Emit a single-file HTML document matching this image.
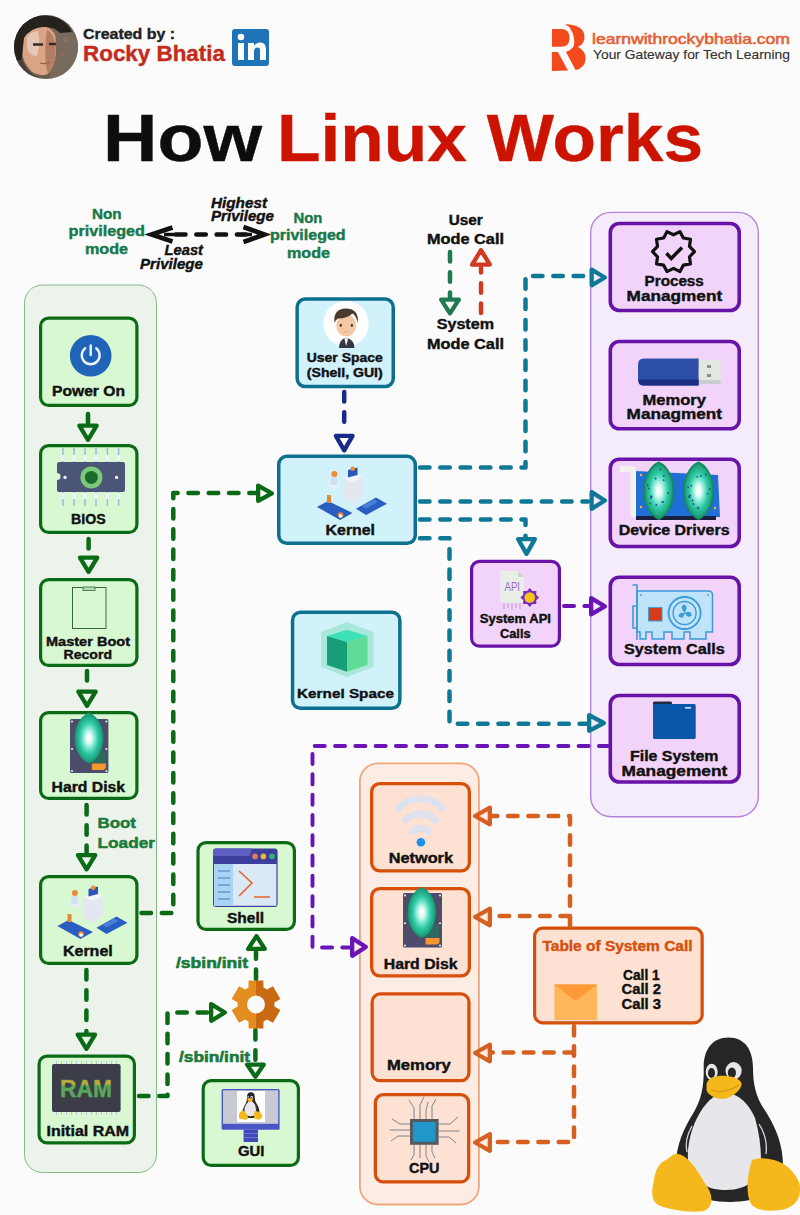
<!DOCTYPE html>
<html><head><meta charset="utf-8"><title>How Linux Works</title>
<style>
html,body{margin:0;padding:0;background:#fbfbfb;}
body{width:800px;height:1215px;overflow:hidden;}
svg{display:block;font-family:"Liberation Sans", sans-serif;}
</style></head>
<body>
<svg width="800" height="1215" viewBox="0 0 800 1215">
<rect width="800" height="1215" fill="#fbfbfb"/>
<defs><clipPath id="av"><circle cx="46" cy="47" r="32"/></clipPath><radialGradient id="gem" cx="50%" cy="50%" r="50%"><stop offset="0" stop-color="#ffffff"/><stop offset="0.18" stop-color="#e6fbf6"/><stop offset="0.4" stop-color="#7fe8d2"/><stop offset="0.62" stop-color="#2fcaa6"/><stop offset="0.85" stop-color="#1fa882"/><stop offset="1" stop-color="#168a66"/></radialGradient></defs>
<text x="83" y="39" font-size="15.5" font-weight="bold" fill="#222" textLength="92" lengthAdjust="spacingAndGlyphs" stroke="#222" stroke-width="0.4">Created by :</text>
<text x="83" y="61" font-size="21.5" font-weight="bold" fill="#c42b1c" textLength="142" lengthAdjust="spacingAndGlyphs" stroke="#c42b1c" stroke-width="0.4">Rocky Bhatia</text>
<rect x="232" y="29" width="37" height="37" rx="3" fill="#1f73b7"/>
<rect x="238" y="43" width="6" height="17" fill="#fff"/><circle cx="241" cy="37" r="3.3" fill="#fff"/>
<path d="M248 43 h6 v3 q2-3.5 6.5-3.5 q5.5 0 5.5 7 v10.5 h-6 v-9.5 q0-3-2.5-3 q-3.5 0-3.5 3.5 v9 h-6 z" fill="#fff"/>
<text x="592" y="44" font-size="14.5" font-weight="normal" fill="#e55e34" textLength="198" lengthAdjust="spacingAndGlyphs" stroke="#e55e34" stroke-width="0.55">learnwithrockybhatia.com</text>
<text x="593" y="59" font-size="13" font-weight="normal" fill="#333" textLength="197" lengthAdjust="spacingAndGlyphs" stroke="#333" stroke-width="0.15">Your Gateway for Tech Learning</text>
<text x="103" y="161" font-size="67" font-weight="bold" fill="#0d0d0d" textLength="159" lengthAdjust="spacingAndGlyphs" stroke="#0d0d0d" stroke-width="0.4">How</text>
<text x="277" y="161" font-size="67" font-weight="bold" fill="#cc1300" textLength="426" lengthAdjust="spacingAndGlyphs" stroke="#cc1300" stroke-width="0.4">Linux Works</text>
<text x="92" y="219" font-size="14" font-weight="bold" fill="#17784a" textLength="29.599999999999994" lengthAdjust="spacingAndGlyphs" stroke="#17784a" stroke-width="0.4">Non</text>
<text x="68.6" y="236" font-size="14" font-weight="bold" fill="#17784a" textLength="76.4" lengthAdjust="spacingAndGlyphs" stroke="#17784a" stroke-width="0.4">privileged</text>
<text x="85" y="254" font-size="14" font-weight="bold" fill="#17784a" textLength="43" lengthAdjust="spacingAndGlyphs" stroke="#17784a" stroke-width="0.4">mode</text>
<text x="293.6" y="223" font-size="14" font-weight="bold" fill="#17784a" textLength="28.799999999999955" lengthAdjust="spacingAndGlyphs" stroke="#17784a" stroke-width="0.4">Non</text>
<text x="270" y="240" font-size="14" font-weight="bold" fill="#17784a" textLength="75.60000000000002" lengthAdjust="spacingAndGlyphs" stroke="#17784a" stroke-width="0.4">privileged</text>
<text x="287" y="258" font-size="14" font-weight="bold" fill="#17784a" textLength="43" lengthAdjust="spacingAndGlyphs" stroke="#17784a" stroke-width="0.4">mode</text>
<text x="211" y="207.6" font-size="14" font-weight="bold" fill="#111" font-style="italic" textLength="56" lengthAdjust="spacingAndGlyphs" stroke="#111" stroke-width="0.4">Highest</text>
<text x="211" y="221" font-size="14" font-weight="bold" fill="#111" font-style="italic" textLength="63" lengthAdjust="spacingAndGlyphs" stroke="#111" stroke-width="0.4">Privilege</text>
<text x="164.6" y="255" font-size="14" font-weight="bold" fill="#111" font-style="italic" textLength="38.400000000000006" lengthAdjust="spacingAndGlyphs" stroke="#111" stroke-width="0.4">Least</text>
<text x="140" y="269" font-size="14" font-weight="bold" fill="#111" font-style="italic" textLength="63" lengthAdjust="spacingAndGlyphs" stroke="#111" stroke-width="0.4">Privilege</text>
<path d="M176 234.5 H246" fill="none" stroke="#111" stroke-width="4.5" stroke-dasharray="9.50 10.80" stroke-dashoffset="0" stroke-linecap="round" stroke-linejoin="round"/>
<path d="M172.5 227.5 L151.5 234.5 L172.5 241.5" fill="none" stroke="#111" stroke-width="4.6" stroke-linejoin="miter" stroke-miterlimit="8"/><path d="M164 234.5 H176" stroke="#111" stroke-width="3.5"/>
<path d="M243.5 227 L264.5 234.5 L243.5 242" fill="none" stroke="#111" stroke-width="4.6" stroke-linejoin="miter" stroke-miterlimit="8"/><path d="M240 234.5 H252" stroke="#111" stroke-width="3.5"/>
<text x="448.7" y="224.7" font-size="14" font-weight="bold" fill="#111" textLength="34.0" lengthAdjust="spacingAndGlyphs" stroke="#111" stroke-width="0.4">User</text>
<text x="427" y="244" font-size="14" font-weight="bold" fill="#111" textLength="77" lengthAdjust="spacingAndGlyphs" stroke="#111" stroke-width="0.4">Mode Call</text>
<text x="436.7" y="329" font-size="14" font-weight="bold" fill="#111" textLength="57.30000000000001" lengthAdjust="spacingAndGlyphs" stroke="#111" stroke-width="0.4">System</text>
<text x="427" y="348.5" font-size="14" font-weight="bold" fill="#111" textLength="77" lengthAdjust="spacingAndGlyphs" stroke="#111" stroke-width="0.4">Mode Call</text>
<path d="M450 252 V298" fill="none" stroke="#1f7a50" stroke-width="4.5" stroke-dasharray="9.50 10.80" stroke-dashoffset="0" stroke-linecap="round" stroke-linejoin="round"/>
<polygon points="450.00,313.35 441.15,299.65 458.85,299.65" fill="#fbfbfb" stroke="#1f7a50" stroke-width="4.3" stroke-linejoin="round"/>
<path d="M481 313 V268" fill="none" stroke="#d03a20" stroke-width="4.5" stroke-dasharray="9.50 10.80" stroke-dashoffset="0" stroke-linecap="round" stroke-linejoin="round"/>
<polygon points="481.00,250.15 472.15,264.55 489.85,264.55" fill="#fbfbfb" stroke="#d03a20" stroke-width="4.3" stroke-linejoin="round"/>
<rect x="24.5" y="285.0" width="132" height="887.5" rx="18" fill="#ecf3ea" stroke="#86b986" stroke-width="1"/>
<rect x="40.6" y="318.1" width="96.3" height="87.3" rx="8" fill="#d8f8d2" stroke="#0b6a16" stroke-width="3.2"/>
<rect x="40.6" y="445.6" width="96.3" height="86.8" rx="8" fill="#d8f8d2" stroke="#0b6a16" stroke-width="3.2"/>
<rect x="40.6" y="579.6" width="96.3" height="85.8" rx="8" fill="#d8f8d2" stroke="#0b6a16" stroke-width="3.2"/>
<rect x="40.6" y="712.6" width="96.3" height="85.8" rx="8" fill="#d8f8d2" stroke="#0b6a16" stroke-width="3.2"/>
<rect x="40.6" y="876.6" width="96.3" height="86.8" rx="8" fill="#d8f8d2" stroke="#0b6a16" stroke-width="3.2"/>
<rect x="39.1" y="1056.1" width="95.3" height="86.8" rx="8" fill="#d8f8d2" stroke="#0b6a16" stroke-width="3.2"/>
<text x="52" y="396" font-size="14" font-weight="bold" fill="#111" textLength="73" lengthAdjust="spacingAndGlyphs" stroke="#111" stroke-width="0.4">Power On</text>
<text x="71" y="524" font-size="14" font-weight="bold" fill="#111" textLength="34.599999999999994" lengthAdjust="spacingAndGlyphs" stroke="#111" stroke-width="0.4">BIOS</text>
<text x="46" y="645.6" font-size="13" font-weight="bold" fill="#111" textLength="84" lengthAdjust="spacingAndGlyphs" stroke="#111" stroke-width="0.4">Master Boot</text>
<text x="63.6" y="658.6" font-size="13" font-weight="bold" fill="#111" textLength="48.4" lengthAdjust="spacingAndGlyphs" stroke="#111" stroke-width="0.4">Record</text>
<text x="51.6" y="791.6" font-size="14" font-weight="bold" fill="#111" textLength="73.4" lengthAdjust="spacingAndGlyphs" stroke="#111" stroke-width="0.4">Hard Disk</text>
<text x="63" y="956" font-size="14" font-weight="bold" fill="#111" textLength="49.7" lengthAdjust="spacingAndGlyphs" stroke="#111" stroke-width="0.4">Kernel</text>
<text x="46.5" y="1135.5" font-size="14" font-weight="bold" fill="#111" textLength="82.5" lengthAdjust="spacingAndGlyphs" stroke="#111" stroke-width="0.4">Initial RAM</text>
<text x="97.6" y="828" font-size="15" font-weight="bold" fill="#1a7a3a" textLength="38.400000000000006" lengthAdjust="spacingAndGlyphs" stroke="#1a7a3a" stroke-width="0.5">Boot</text>
<text x="97.6" y="848" font-size="15" font-weight="bold" fill="#1a7a3a" textLength="57.400000000000006" lengthAdjust="spacingAndGlyphs" stroke="#1a7a3a" stroke-width="0.5">Loader</text>
<path d="M88 414 V424" fill="none" stroke="#0b6a16" stroke-width="4.5" stroke-dasharray="9.50 10.80" stroke-dashoffset="0" stroke-linecap="round" stroke-linejoin="round"/>
<polygon points="88.00,439.85 79.35,425.65 96.65,425.65" fill="#ecf3ea" stroke="#0b6a16" stroke-width="4.3" stroke-linejoin="round"/>
<path d="M88.6 539 V556" fill="none" stroke="#0b6a16" stroke-width="4.5" stroke-dasharray="9.50 10.80" stroke-dashoffset="0" stroke-linecap="round" stroke-linejoin="round"/>
<polygon points="88.60,571.85 79.95,557.65 97.25,557.65" fill="#ecf3ea" stroke="#0b6a16" stroke-width="4.3" stroke-linejoin="round"/>
<path d="M87 671 V690" fill="none" stroke="#0b6a16" stroke-width="4.5" stroke-dasharray="9.50 10.80" stroke-dashoffset="0" stroke-linecap="round" stroke-linejoin="round"/>
<polygon points="87.00,705.85 78.35,691.65 95.65,691.65" fill="#ecf3ea" stroke="#0b6a16" stroke-width="4.3" stroke-linejoin="round"/>
<path d="M86.6 805 V853.5" fill="none" stroke="#0b6a16" stroke-width="4.5" stroke-dasharray="9.50 10.80" stroke-dashoffset="0" stroke-linecap="round" stroke-linejoin="round"/>
<polygon points="86.60,869.35 77.95,855.15 95.25,855.15" fill="#ecf3ea" stroke="#0b6a16" stroke-width="4.3" stroke-linejoin="round"/>
<path d="M86.4 970 V1033" fill="none" stroke="#0b6a16" stroke-width="4.5" stroke-dasharray="9.50 10.80" stroke-dashoffset="0" stroke-linecap="round" stroke-linejoin="round"/>
<polygon points="86.40,1048.85 77.75,1034.65 95.05,1034.65" fill="#ecf3ea" stroke="#0b6a16" stroke-width="4.3" stroke-linejoin="round"/>
<rect x="297.15" y="299.05" width="96.10000000000002" height="87.5" rx="8" fill="#d2f2fb" stroke="#0e708f" stroke-width="3.5"/>
<text x="306.8" y="361.5" font-size="12.5" font-weight="bold" fill="#111" textLength="75.89999999999998" lengthAdjust="spacingAndGlyphs" stroke="#111" stroke-width="0.4">User Space</text>
<text x="306.8" y="377" font-size="12.5" font-weight="bold" fill="#111" textLength="75.89999999999998" lengthAdjust="spacingAndGlyphs" stroke="#111" stroke-width="0.4">(Shell, GUI)</text>
<rect x="278.75" y="456.35" width="136.5" height="86.89999999999998" rx="8" fill="#d2f2fb" stroke="#0e708f" stroke-width="3.5"/>
<text x="325.6" y="535.4" font-size="14" font-weight="bold" fill="#111" textLength="49.39999999999998" lengthAdjust="spacingAndGlyphs" stroke="#111" stroke-width="0.4">Kernel</text>
<rect x="292.55" y="612.25" width="107.30000000000001" height="96.0" rx="8" fill="#d2f2fb" stroke="#0e708f" stroke-width="3.5"/>
<text x="297" y="698" font-size="13.5" font-weight="bold" fill="#111" textLength="97" lengthAdjust="spacingAndGlyphs" stroke="#111" stroke-width="0.4">Kernel Space</text>
<path d="M344.2 392 V432" fill="none" stroke="#1a2a8a" stroke-width="4.5" stroke-dasharray="9.50 10.80" stroke-dashoffset="0" stroke-linecap="round" stroke-linejoin="round"/>
<polygon points="344.20,450.35 335.85,435.95 352.55,435.95" fill="#fbfbfb" stroke="#1a2a8a" stroke-width="4.3" stroke-linejoin="round"/>
<rect x="590.7" y="212.39999999999998" width="167.6" height="604.3000000000001" rx="20" fill="#f4ebfb" stroke="#b582dd" stroke-width="1.4"/>
<rect x="610.3" y="223.5" width="128.9" height="87.00000000000003" rx="9" fill="#f2d4fb" stroke="#6812a8" stroke-width="3.6"/>
<rect x="610.3" y="341.5" width="128.9" height="87.30000000000004" rx="9" fill="#f2d4fb" stroke="#6812a8" stroke-width="3.6"/>
<rect x="610.3" y="459.2" width="128.9" height="87.29999999999998" rx="9" fill="#f2d4fb" stroke="#6812a8" stroke-width="3.6"/>
<rect x="610.3" y="577.1999999999999" width="128.9" height="87.29999999999998" rx="9" fill="#f2d4fb" stroke="#6812a8" stroke-width="3.6"/>
<rect x="610.3" y="695.5" width="128.9" height="86.49999999999991" rx="9" fill="#f2d4fb" stroke="#6812a8" stroke-width="3.6"/>
<text x="644.6" y="286" font-size="14" font-weight="bold" fill="#111" textLength="59.19999999999993" lengthAdjust="spacingAndGlyphs" stroke="#111" stroke-width="0.4">Process</text>
<text x="626.6" y="301" font-size="14" font-weight="bold" fill="#111" textLength="95.60000000000002" lengthAdjust="spacingAndGlyphs" stroke="#111" stroke-width="0.4">Managment</text>
<text x="642.5" y="404.8" font-size="14" font-weight="bold" fill="#111" textLength="63.5" lengthAdjust="spacingAndGlyphs" stroke="#111" stroke-width="0.4">Memory</text>
<text x="626.6" y="419" font-size="14" font-weight="bold" fill="#111" textLength="95.39999999999998" lengthAdjust="spacingAndGlyphs" stroke="#111" stroke-width="0.4">Managment</text>
<text x="618.7" y="535" font-size="14" font-weight="bold" fill="#111" textLength="110.89999999999998" lengthAdjust="spacingAndGlyphs" stroke="#111" stroke-width="0.4">Device Drivers</text>
<text x="624" y="653.8" font-size="14" font-weight="bold" fill="#111" textLength="100.70000000000005" lengthAdjust="spacingAndGlyphs" stroke="#111" stroke-width="0.4">System Calls</text>
<text x="630" y="760.7" font-size="14" font-weight="bold" fill="#111" textLength="88.5" lengthAdjust="spacingAndGlyphs" stroke="#111" stroke-width="0.4">File System</text>
<text x="621.6" y="775.7" font-size="14" font-weight="bold" fill="#111" textLength="105.69999999999993" lengthAdjust="spacingAndGlyphs" stroke="#111" stroke-width="0.4">Management</text>
<rect x="471.6" y="561.4" width="87.8" height="84.8" rx="8" fill="#f2d4fb" stroke="#6812a8" stroke-width="3.2"/>
<text x="479.8" y="623" font-size="12" font-weight="bold" fill="#111" textLength="71.19999999999999" lengthAdjust="spacingAndGlyphs" stroke="#111" stroke-width="0.4">System  API</text>
<text x="500" y="637.6" font-size="12" font-weight="bold" fill="#111" textLength="30.600000000000023" lengthAdjust="spacingAndGlyphs" stroke="#111" stroke-width="0.4">Calls</text>
<path d="M420 467.5 H525.5 V276 H588" fill="none" stroke="#0f7896" stroke-width="4.5" stroke-dasharray="9.50 10.80" stroke-dashoffset="0" stroke-linecap="round" stroke-linejoin="round"/>
<polygon points="604.85,277.50 591.65,269.65 591.65,285.35" fill="#f4ebfb" stroke="#0f7896" stroke-width="4.3" stroke-linejoin="round"/>
<path d="M420 501.5 H588" fill="none" stroke="#0f7896" stroke-width="4.5" stroke-dasharray="9.50 10.80" stroke-dashoffset="0" stroke-linecap="round" stroke-linejoin="round"/>
<polygon points="604.85,500.50 591.65,492.15 591.65,508.85" fill="#f4ebfb" stroke="#0f7896" stroke-width="4.3" stroke-linejoin="round"/>
<path d="M420 519.5 H525.5 V538" fill="none" stroke="#0f7896" stroke-width="4.5" stroke-dasharray="9.50 10.80" stroke-dashoffset="0" stroke-linecap="round" stroke-linejoin="round"/>
<polygon points="526.50,553.85 518.15,539.15 534.85,539.15" fill="#fbfbfb" stroke="#0f7896" stroke-width="4.3" stroke-linejoin="round"/>
<path d="M420 538.2 H449.5 V723.7 H588" fill="none" stroke="#0f7896" stroke-width="4.5" stroke-dasharray="9.50 10.80" stroke-dashoffset="0" stroke-linecap="round" stroke-linejoin="round"/>
<polygon points="603.85,723.00 589.15,715.15 589.15,730.85" fill="#f4ebfb" stroke="#0f7896" stroke-width="4.3" stroke-linejoin="round"/>
<path d="M564 606 H590" fill="none" stroke="#6a14b8" stroke-width="3.9" stroke-dasharray="10.10 10.20" stroke-dashoffset="0" stroke-linecap="round" stroke-linejoin="round"/>
<polygon points="604.85,606.30 591.15,598.15 591.15,614.45" fill="#f4ebfb" stroke="#6a14b8" stroke-width="4.3" stroke-linejoin="round"/>
<path d="M609 746 H312.5 V947.5 H350" fill="none" stroke="#6a14b8" stroke-width="3.9" stroke-dasharray="10.10 10.20" stroke-dashoffset="0" stroke-linecap="round" stroke-linejoin="round"/>
<path d="M141.5 913 H173.3 V493 H256" fill="none" stroke="#0b6a16" stroke-width="4.5" stroke-dasharray="9.50 10.80" stroke-dashoffset="0" stroke-linecap="round" stroke-linejoin="round"/>
<polygon points="271.85,493.30 258.15,485.65 258.15,500.95" fill="#fbfbfb" stroke="#0b6a16" stroke-width="4.3" stroke-linejoin="round"/>
<path d="M139 1096 H167.5 V1012.5 H209" fill="none" stroke="#0b6a16" stroke-width="4.5" stroke-dasharray="9.50 10.80" stroke-dashoffset="0" stroke-linecap="round" stroke-linejoin="round"/>
<polygon points="224.85,1012.50 211.15,1004.15 211.15,1020.85" fill="#fbfbfb" stroke="#0b6a16" stroke-width="4.3" stroke-linejoin="round"/>
<path d="M256 979 V952" fill="none" stroke="#0b6a16" stroke-width="4.5" stroke-dasharray="9.50 10.80" stroke-dashoffset="0" stroke-linecap="round" stroke-linejoin="round"/>
<polygon points="256.50,936.15 248.15,948.85 264.85,948.85" fill="#fbfbfb" stroke="#0b6a16" stroke-width="4.3" stroke-linejoin="round"/>
<path d="M255.4 1030 V1062" fill="none" stroke="#0b6a16" stroke-width="4.5" stroke-dasharray="9.50 10.80" stroke-dashoffset="0" stroke-linecap="round" stroke-linejoin="round"/>
<polygon points="255.40,1076.85 247.05,1064.65 263.75,1064.65" fill="#fbfbfb" stroke="#0b6a16" stroke-width="4.3" stroke-linejoin="round"/>
<rect x="198.0" y="842.6" width="96.39999999999999" height="86.8" rx="8" fill="#d8f8d2" stroke="#0b6a16" stroke-width="3.2"/>
<text x="227" y="923.4" font-size="14" font-weight="bold" fill="#111" textLength="37" lengthAdjust="spacingAndGlyphs" stroke="#111" stroke-width="0.4">Shell</text>
<rect x="203.2" y="1080.6" width="95.2" height="84.8" rx="8" fill="#d8f8d2" stroke="#0b6a16" stroke-width="3.2"/>
<text x="238" y="1156" font-size="14" font-weight="bold" fill="#111" textLength="26.399999999999977" lengthAdjust="spacingAndGlyphs" stroke="#111" stroke-width="0.4">GUI</text>
<text x="176" y="968" font-size="15" font-weight="bold" fill="#1a7a3a" textLength="72" lengthAdjust="spacingAndGlyphs" stroke="#1a7a3a" stroke-width="0.6">/sbin/init</text>
<text x="179" y="1062" font-size="15" font-weight="bold" fill="#1a7a3a" textLength="71" lengthAdjust="spacingAndGlyphs" stroke="#1a7a3a" stroke-width="0.6">/sbin/init</text>
<rect x="359.9" y="763.4" width="119.00000000000001" height="441.1000000000001" rx="18" fill="#fdece3" stroke="#eea77c" stroke-width="1.8"/>
<rect x="371.65" y="783.65" width="97.7" height="87.2" rx="8" fill="#fde1d3" stroke="#d6500c" stroke-width="3.3"/>
<rect x="371.65" y="888.65" width="97.7" height="87.2" rx="8" fill="#fde1d3" stroke="#d6500c" stroke-width="3.3"/>
<rect x="372.15" y="993.9499999999999" width="96.80000000000003" height="86.7" rx="8" fill="#fde1d3" stroke="#d6500c" stroke-width="3.3"/>
<rect x="375.34999999999997" y="1094.65" width="93.30000000000003" height="87.29999999999991" rx="8" fill="#fde1d3" stroke="#d6500c" stroke-width="3.3"/>
<polygon points="365.85,947.00 352.15,938.15 352.15,955.85" fill="#fdece3" stroke="#6a14b8" stroke-width="4.3" stroke-linejoin="round"/>
<text x="388.75" y="863" font-size="14" font-weight="bold" fill="#111" textLength="64.25" lengthAdjust="spacingAndGlyphs" stroke="#111" stroke-width="0.4">Network</text>
<text x="383.75" y="968.75" font-size="14" font-weight="bold" fill="#111" textLength="73.75" lengthAdjust="spacingAndGlyphs" stroke="#111" stroke-width="0.4">Hard Disk</text>
<text x="387" y="1070" font-size="14" font-weight="bold" fill="#111" textLength="63.80000000000001" lengthAdjust="spacingAndGlyphs" stroke="#111" stroke-width="0.4">Memory</text>
<text x="409" y="1173" font-size="14" font-weight="bold" fill="#111" textLength="30.399999999999977" lengthAdjust="spacingAndGlyphs" stroke="#111" stroke-width="0.4">CPU</text>
<rect x="534.6" y="928.2" width="167.55" height="94.60000000000007" rx="8" fill="#fde1d3" stroke="#d6500c" stroke-width="3.2"/>
<text x="542.5" y="950.6" font-size="14" font-weight="bold" fill="#d6500c" textLength="150.0" lengthAdjust="spacingAndGlyphs" stroke="#d6500c" stroke-width="0.4">Table of System Call</text>
<text x="623" y="979.7" font-size="14" font-weight="bold" fill="#111" textLength="36.700000000000045" lengthAdjust="spacingAndGlyphs" stroke="#111" stroke-width="0.4">Call 1</text>
<text x="621.6" y="994.4" font-size="14" font-weight="bold" fill="#111" textLength="39.39999999999998" lengthAdjust="spacingAndGlyphs" stroke="#111" stroke-width="0.4">Call 2</text>
<text x="621.6" y="1008.75" font-size="14" font-weight="bold" fill="#111" textLength="39.39999999999998" lengthAdjust="spacingAndGlyphs" stroke="#111" stroke-width="0.4">Call 3</text>
<path d="M570 926 V816 H492" fill="none" stroke="#d5601f" stroke-width="4.5" stroke-dasharray="9.50 10.80" stroke-dashoffset="0" stroke-linecap="round" stroke-linejoin="round"/>
<polygon points="475.15,816.00 489.85,807.65 489.85,824.35" fill="#fdece3" stroke="#d5601f" stroke-width="4.3" stroke-linejoin="round"/>
<path d="M570 916 H492" fill="none" stroke="#d5601f" stroke-width="4.5" stroke-dasharray="9.50 10.80" stroke-dashoffset="0" stroke-linecap="round" stroke-linejoin="round"/>
<polygon points="475.15,917.00 489.85,908.65 489.85,925.35" fill="#fdece3" stroke="#d5601f" stroke-width="4.3" stroke-linejoin="round"/>
<path d="M574 1026 V1142 H492" fill="none" stroke="#d5601f" stroke-width="4.5" stroke-dasharray="9.50 10.80" stroke-dashoffset="0" stroke-linecap="round" stroke-linejoin="round"/>
<path d="M574 1052.5 H492" fill="none" stroke="#d5601f" stroke-width="4.5" stroke-dasharray="9.50 10.80" stroke-dashoffset="0" stroke-linecap="round" stroke-linejoin="round"/>
<polygon points="475.15,1053.00 489.85,1044.65 489.85,1061.35" fill="#fdece3" stroke="#d5601f" stroke-width="4.3" stroke-linejoin="round"/>
<polygon points="475.15,1142.50 489.85,1134.15 489.85,1150.85" fill="#fdece3" stroke="#d5601f" stroke-width="4.3" stroke-linejoin="round"/>
<defs><g id="tux"><path d="M728.5 1037.5 C712 1037.5 703.5 1050 703.7 1068 C704 1085 702 1098 694 1112 C684 1128 676 1145 676 1165 C676 1190 700 1202 730 1202 C760 1202 783 1190 783 1165 C783 1145 776 1128 766 1112 C756 1098 753 1085 753 1068 C753 1050 745 1037.5 728.5 1037.5 Z" fill="#262626"/><path d="M726 1093 C714 1093 704 1104 697 1118 C690 1132 687 1148 688 1160 C690 1180 705 1190 726 1190 C748 1190 761 1178 761 1160 C761 1146 759 1132 755 1118 C749 1104 738 1093 726 1093 Z" fill="#e7e7eb"/><path d="M692 1126 Q684 1140 687 1152" fill="none" stroke="#d8d8dc" stroke-width="1.3"/><path d="M759 1124 Q768 1138 766 1154" fill="none" stroke="#d8d8dc" stroke-width="1.3"/><ellipse cx="711.7" cy="1072" rx="6" ry="8.2" fill="#e7e7eb"/><ellipse cx="711.5" cy="1073" rx="3.5" ry="5" fill="#262626"/><ellipse cx="733.6" cy="1070.8" rx="8.1" ry="8.7" fill="#e7e7eb"/><ellipse cx="731.9" cy="1072.8" rx="4.1" ry="5.2" fill="#262626"/><path d="M706.5 1084 C708 1077 718 1075.5 724 1075.8 C732 1076 741 1079 741.7 1084 C741 1090 734 1096 726 1098.5 C718 1100 708 1096 706.5 1090 Z" fill="#f4b81c"/><path d="M711 1090 Q724 1095 739 1085" fill="none" stroke="#c98a10" stroke-width="0.9"/><path d="M678 1154 C690 1156 700 1175 708 1188 C714 1198 712 1208 704 1211 C690 1213 670 1210 658 1205 C650 1200 652 1188 654 1180 C655 1170 660 1162 666 1160 C670 1158 673 1153 678 1154 Z" fill="#f4b81c"/><path d="M752 1160 C762 1156 775 1160 782 1163 C790 1168 798 1176 800 1186 C801 1200 794 1208 780 1210 C766 1212 754 1210 750 1202 C746 1192 747 1175 752 1160 Z" fill="#f4b81c"/></g></defs><use href="#tux"/>
<g clip-path="url(#av)"><rect x="14" y="15" width="64" height="64" fill="#6a5d50"/><path d="M52 20 Q70 26 78 40 V79 H50 Z" fill="#786a5c"/><circle cx="66" cy="40" r="3" fill="#9a7a62" opacity="0.5"/><circle cx="62" cy="54" r="2.5" fill="#a86a52" opacity="0.4"/><path d="M22 42 Q25 27 42 26 Q53 27 55.5 37 L56 52 Q55 66 48 74 Q40 77 32 72 Q22 62 22 50 Z" fill="#dba386"/><path d="M27 38 Q31 31 38 31 Q41 42 37 56 Q30 57 27 48 Z" fill="#e6c6b4"/><path d="M47 30 Q55 34 55.5 50 Q55 66 48 74 Q43 58 47 30 Z" fill="#b57c64"/><path d="M14 35 Q20 17 42 15.5 Q64 15 72 32 L60 33 Q54 26 43 27 Q30 28 24 38 L21 66 L14 66 Z" fill="#25211d"/><path d="M33 44.5 h10 M49 44 h7" stroke="#3b2a24" stroke-width="2.6"/><path d="M40 63 q5 1.5 10 -1" stroke="#9a5a4a" stroke-width="1.2" fill="none"/><path d="M22 60 Q30 78 46 79 H14 V60 Z" fill="#4a4038"/></g>
<g fill="#f24a1c"><path d="M552 29 H561 Q569.5 29 569.5 38 Q569.5 46.75 561 46.75 H552 Z"/><polygon points="551.9,52 557.8,52 568,70.5 551.9,71"/><path d="M565 24 Q584.5 25 584.5 37 Q584.5 44 578 47 Q586 51 585.6 59 Q585 68 575.6 70 L566 52 Q573 49 574 45 Q575 36 571 30 Q569 26 565 24 Z"/></g>
<circle cx="90.7" cy="355.8" r="20.8" fill="#1f64b9"/><path d="M85.2 348.3 A8.9 8.9 0 1 0 96.2 348.3" fill="none" stroke="#eef6ff" stroke-width="2.4" stroke-linecap="round"/><path d="M90.7 345.5 V355" stroke="#eef6ff" stroke-width="2.4" stroke-linecap="round"/>
<rect x="62.3" y="448" width="1.4" height="14" fill="#9bb4d8"/><rect x="62.3" y="492" width="1.4" height="14" fill="#9bb4d8"/><rect x="61.5" y="455" width="3" height="6" fill="#eef4ff"/><rect x="61.5" y="493" width="3" height="6" fill="#eef4ff"/><rect x="73.3" y="448" width="1.4" height="14" fill="#9bb4d8"/><rect x="73.3" y="492" width="1.4" height="14" fill="#9bb4d8"/><rect x="72.5" y="455" width="3" height="6" fill="#eef4ff"/><rect x="72.5" y="493" width="3" height="6" fill="#eef4ff"/><rect x="84.3" y="448" width="1.4" height="14" fill="#9bb4d8"/><rect x="84.3" y="492" width="1.4" height="14" fill="#9bb4d8"/><rect x="83.5" y="455" width="3" height="6" fill="#eef4ff"/><rect x="83.5" y="493" width="3" height="6" fill="#eef4ff"/><rect x="95.3" y="448" width="1.4" height="14" fill="#9bb4d8"/><rect x="95.3" y="492" width="1.4" height="14" fill="#9bb4d8"/><rect x="94.5" y="455" width="3" height="6" fill="#eef4ff"/><rect x="94.5" y="493" width="3" height="6" fill="#eef4ff"/><rect x="106.7" y="448" width="1.4" height="14" fill="#9bb4d8"/><rect x="106.7" y="492" width="1.4" height="14" fill="#9bb4d8"/><rect x="105.9" y="455" width="3" height="6" fill="#eef4ff"/><rect x="105.9" y="493" width="3" height="6" fill="#eef4ff"/><rect x="117.89999999999999" y="448" width="1.4" height="14" fill="#9bb4d8"/><rect x="117.89999999999999" y="492" width="1.4" height="14" fill="#9bb4d8"/><rect x="117.1" y="455" width="3" height="6" fill="#eef4ff"/><rect x="117.1" y="493" width="3" height="6" fill="#eef4ff"/><rect x="57" y="462" width="68" height="30" rx="2" fill="#4a5577"/><path d="M57 473 a3.5 3.5 0 0 1 0 7 z" fill="#d8f8d2"/><circle cx="91.4" cy="477.4" r="11" fill="#7cc97c"/><circle cx="91.4" cy="477.4" r="6.5" fill="#1b6b2b"/><circle cx="65" cy="477.4" r="1.6" fill="#fff"/><circle cx="116.6" cy="477.4" r="1.6" fill="#fff"/>
<rect x="72.5" y="587.5" width="33.5" height="41" fill="none" stroke="#2f6a3a" stroke-width="1"/><rect x="83" y="587" width="12" height="3.6" fill="#b8dcb0" stroke="#2f6a3a" stroke-width="0.8"/>
<rect x="70" y="719" width="38.400000000000006" height="54" rx="1.5" fill="#4b4d6b"/><polygon points="105.4,749 105.4,763 86.4,763" fill="#2f6a5e"/><circle cx="72" cy="721.5" r="1.1" fill="#e8e8f0"/><circle cx="106.4" cy="721.5" r="1.1" fill="#e8e8f0"/><circle cx="72" cy="749.0" r="1.1" fill="#e8e8f0"/><circle cx="106.4" cy="749.0" r="1.1" fill="#e8e8f0"/><circle cx="72" cy="771" r="1.1" fill="#e8e8f0"/><circle cx="106.4" cy="771" r="1.1" fill="#e8e8f0"/><path d="M89 712.5 C108.304 720.66 108.304 755.34 89 763.5 C69.696 755.34 69.696 720.66 89 712.5 Z" fill="url(#gem)"/><polygon points="91.9,763.5 105.9,763.5 105.9,768 103.9,770 91.9,770" fill="#f7962e"/>
<rect x="403" y="893" width="39" height="54.5" rx="1.5" fill="#4b4d6b"/><polygon points="439,923 439,937.5 420,937.5" fill="#2f6a5e"/><circle cx="405" cy="895.5" r="1.1" fill="#e8e8f0"/><circle cx="440" cy="895.5" r="1.1" fill="#e8e8f0"/><circle cx="405" cy="923.25" r="1.1" fill="#e8e8f0"/><circle cx="440" cy="923.25" r="1.1" fill="#e8e8f0"/><circle cx="405" cy="945.5" r="1.1" fill="#e8e8f0"/><circle cx="440" cy="945.5" r="1.1" fill="#e8e8f0"/><path d="M421.75 887.0 C440.8 895.16 440.8 929.84 421.75 938.0 C402.7 929.84 402.7 895.16 421.75 887.0 Z" fill="url(#gem)"/><polygon points="425.5,938.0 439.5,938.0 439.5,942.5 437.5,944.5 425.5,944.5" fill="#f7962e"/>
<g transform="translate(300,460) scale(1.0)"><polygon points="16.9,46.9 28,41 52.5,53 40,60" fill="#2a5dc0"/><polygon points="56,48.75 76,37.5 87,43.75 66,55" fill="#2a5dc0"/><polygon points="62,46 74,39.5 78,42 66,48.5" fill="#4a7fd8"/><polygon points="44,18 55,12.5 62.5,17 63,35 52,44 42,37" fill="#e2e7f1"/><polygon points="44,18 55,12.5 62.5,17 52,22" fill="#f2f4f8"/><polygon points="48,10 57.5,7.5 57.5,15 48,17.5" fill="#2a56b8"/><circle cx="52.75" cy="8.75" r="2.3" fill="#f08a3a"/><polygon points="27.5,25 35,21 42,25 34.5,29" fill="#e6eef8"/><rect x="31" y="17" width="6" height="8" fill="#cfe0f0"/><circle cx="34.4" cy="14" r="3" fill="#f08a3a"/><rect x="27" y="35" width="4" height="8" fill="#e08a3a"/><circle cx="40.6" cy="55" r="2.8" fill="#f08a3a"/><circle cx="40.6" cy="56" r="1.8" fill="#fff"/></g>
<g transform="translate(40.5,879) scale(1.0)"><polygon points="16.9,46.9 28,41 52.5,53 40,60" fill="#2a5dc0"/><polygon points="56,48.75 76,37.5 87,43.75 66,55" fill="#2a5dc0"/><polygon points="62,46 74,39.5 78,42 66,48.5" fill="#4a7fd8"/><polygon points="44,18 55,12.5 62.5,17 63,35 52,44 42,37" fill="#e2e7f1"/><polygon points="44,18 55,12.5 62.5,17 52,22" fill="#f2f4f8"/><polygon points="48,10 57.5,7.5 57.5,15 48,17.5" fill="#2a56b8"/><circle cx="52.75" cy="8.75" r="2.3" fill="#f08a3a"/><polygon points="27.5,25 35,21 42,25 34.5,29" fill="#e6eef8"/><rect x="31" y="17" width="6" height="8" fill="#cfe0f0"/><circle cx="34.4" cy="14" r="3" fill="#f08a3a"/><rect x="27" y="35" width="4" height="8" fill="#e08a3a"/><circle cx="40.6" cy="55" r="2.8" fill="#f08a3a"/><circle cx="40.6" cy="56" r="1.8" fill="#fff"/></g>
<polygon points="347,622 373.6,632 373.6,667 347,677 321,667 321,632" fill="#9fe3cf" opacity="0.8"/><polygon points="327,636 347,629.7 367.5,636 347,642" fill="#3fe0b8"/><polygon points="327,636 347,642 347,671.7 327,665" fill="#159e78"/><polygon points="347,642 367.5,636 367.5,665 347,671.7" fill="#5fdc98"/>
<circle cx="346" cy="323.6" r="22.7" fill="#ffffff"/><path d="M339 348 Q339 339.5 346 337.8 Q354.5 339.5 354.5 348 Z" fill="#353844"/><path d="M344.3 338.3 L346.2 346 L348.2 338.3 Z" fill="#f4f4f4"/><ellipse cx="346.2" cy="325.5" rx="10" ry="11" fill="#f5c8a5"/><path d="M334.6 323 Q332.5 309 346 308.5 Q359.5 309 357.7 323 Q356.5 316 352.5 313.5 Q347 318.5 338 318.5 Q335.5 319.5 334.6 323 Z" fill="#4a3a2e"/><ellipse cx="340.8" cy="325.3" rx="1.1" ry="1.5" fill="#333"/><ellipse cx="351.9" cy="325.3" rx="1.1" ry="1.5" fill="#333"/><path d="M343.5 331.5 Q346 333 348.5 331.5" fill="none" stroke="#d89a7a" stroke-width="0.8"/>
<polygon points="694.50,251.60 689.48,256.79 690.49,263.94 683.37,265.19 679.99,271.57 673.50,268.40 667.01,271.57 663.63,265.19 656.51,263.94 657.52,256.79 652.50,251.60 657.52,246.41 656.51,239.26 663.63,238.01 667.01,231.63 673.50,234.80 679.99,231.63 683.37,238.01 690.49,239.26 689.48,246.41" fill="none" stroke="#111" stroke-width="3.2" stroke-linejoin="round"/><path d="M666.4 253.3 L671.3 258.4 L682 247.5" fill="none" stroke="#111" stroke-width="3.5" stroke-linecap="butt" stroke-linejoin="miter"/>
<rect x="698.6" y="360" width="22" height="23.4" fill="#e2e8e0"/><rect x="698.6" y="380" width="22" height="4" fill="#c9cdd0"/><rect x="707" y="365" width="4" height="3" fill="#8d8f90"/><rect x="707" y="374" width="4" height="3" fill="#8d8f90"/><path d="M644 358.6 H698.6 V385.6 H644 Q638 385.6 638 379 V365 Q638 358.6 644 358.6 Z" fill="#2e4fa8"/><path d="M638.5 379.5 H698.6 V385.6 H644 Q638.5 385.6 638.5 381 Z" fill="#1d2f85"/>
<polygon points="634.7,471 718,475 720,517 636,519" fill="#1f6fd6"/><path d="M620 466 H632 Q636 466 636 470 V517 H630.5 V472 H620 Z" fill="#f2f2ec"/><rect x="636" y="516" width="80" height="4" fill="#1a1f40"/><circle cx="641" cy="475" r="1.3" fill="#f0b030"/><circle cx="641" cy="507" r="1.3" fill="#f0b030"/><circle cx="715" cy="508" r="1.3" fill="#f0b030"/>
<path d="M658.75 462.25 C678.435 471.37 678.435 510.13 658.75 519.25 C639.065 510.13 639.065 471.37 658.75 462.25 Z" fill="url(#gem)" stroke="#148a5e" stroke-width="1.5"/>
<circle cx="663.0" cy="502.0" r="0.9" fill="#2a4a9a"/>
<circle cx="648.6" cy="488.5" r="0.9" fill="#2a4a9a"/>
<circle cx="667.9" cy="492.9" r="0.9" fill="#2a4a9a"/>
<circle cx="662.4" cy="502.2" r="0.9" fill="#2a4a9a"/>
<circle cx="650.1" cy="503.3" r="0.9" fill="#2a4a9a"/>
<circle cx="655.6" cy="478.7" r="0.9" fill="#2a4a9a"/>
<circle cx="660.3" cy="469.4" r="0.9" fill="#2a4a9a"/>
<circle cx="651.1" cy="497.9" r="0.9" fill="#2a4a9a"/>
<circle cx="651.7" cy="496.5" r="0.9" fill="#2a4a9a"/>
<circle cx="663.9" cy="476.0" r="0.9" fill="#2a4a9a"/>
<circle cx="647.8" cy="485.0" r="0.9" fill="#2a4a9a"/>
<circle cx="663.7" cy="480.2" r="0.9" fill="#2a4a9a"/>
<circle cx="650.9" cy="496.7" r="0.9" fill="#2a4a9a"/>
<circle cx="656.3" cy="505.0" r="0.9" fill="#2a4a9a"/>
<path d="M698.5 462.25 C718.185 471.37 718.185 510.13 698.5 519.25 C678.815 510.13 678.815 471.37 698.5 462.25 Z" fill="url(#gem)" stroke="#148a5e" stroke-width="1.5"/>
<circle cx="705.8" cy="474.5" r="0.9" fill="#2a4a9a"/>
<circle cx="709.8" cy="488.9" r="0.9" fill="#2a4a9a"/>
<circle cx="689.6" cy="497.3" r="0.9" fill="#2a4a9a"/>
<circle cx="697.8" cy="507.7" r="0.9" fill="#2a4a9a"/>
<circle cx="688.1" cy="487.4" r="0.9" fill="#2a4a9a"/>
<circle cx="688.9" cy="496.3" r="0.9" fill="#2a4a9a"/>
<circle cx="698.4" cy="508.4" r="0.9" fill="#2a4a9a"/>
<circle cx="693.5" cy="504.0" r="0.9" fill="#2a4a9a"/>
<circle cx="691.1" cy="485.8" r="0.9" fill="#2a4a9a"/>
<circle cx="690.1" cy="495.5" r="0.9" fill="#2a4a9a"/>
<circle cx="697.3" cy="476.8" r="0.9" fill="#2a4a9a"/>
<circle cx="692.6" cy="500.5" r="0.9" fill="#2a4a9a"/>
<circle cx="707.5" cy="493.6" r="0.9" fill="#2a4a9a"/>
<circle cx="701.0" cy="475.8" r="0.9" fill="#2a4a9a"/>
<path d="M637 591 H708 Q712.5 591 712.5 595 V632 H706 V639 H690 V632 H684 V639 H672 V632 H664 V639 H652 V632 H646 V639 H640 V632 H637 Z" fill="#bfe3f8" stroke="#3a9bd8" stroke-width="1.5"/><path d="M632.5 585 H637 V640 M637 606 H633 V628 H637" fill="none" stroke="#3a9bd8" stroke-width="1.6"/><rect x="648.6" y="607.6" width="13.4" height="13.4" fill="#d83a1a" stroke="#3a9bd8" stroke-width="1"/><circle cx="684.6" cy="613" r="16" fill="#bfe3f8" stroke="#3a9bd8" stroke-width="1.8"/><circle cx="684.6" cy="613" r="11.5" fill="none" stroke="#3a9bd8" stroke-width="1.4"/><path d="M684.6 613 q-6 -7 0 -8.5 q4 2.5 0 8.5 q7 -3.5 7 2.5 q-3.5 3.5 -7 -2.5 q-1 7 -6 3.5 q0 -5 6 -3.5" fill="#3a9bd8"/><circle cx="641" cy="595" r="0.9" fill="#3a9bd8"/><circle cx="708" cy="595" r="0.9" fill="#3a9bd8"/>
<path d="M653 703 Q653 701.6 655 701.6 H670 Q672 701.6 672 703 V705 H653 Z" fill="#1f2a44"/><rect x="653" y="704" width="42.7" height="35" rx="1.5" fill="#0a56a8"/><rect x="685" y="707" width="6" height="1.6" fill="#cfe0f5"/>
<path d="M500.5 571 H518 L524 577 V602.8 H500.5 Z" fill="#e9eee7"/><path d="M518 571 V577 H524 Z" fill="#cfd6cc"/><text x="504.6" y="590.75" font-size="12" fill="#9a6ac8" textLength="15.4" lengthAdjust="spacingAndGlyphs">API</text><path d="M504 603 v6 M508 603 v5 M512 603 v7 M516 603 v5 M520 603 v6" stroke="#a98ad0" stroke-width="0.8"/>
<polygon points="539.1,597.5 536.2,600.2 536.4,604.1 532.4,604.0 529.8,606.9 527.1,604.0 523.1,604.1 523.3,600.2 520.4,597.5 523.3,594.8 523.1,590.9 527.1,591.0 529.8,588.1 532.4,591.0 536.4,590.9 536.2,594.8" fill="#7a2cc0"/><circle cx="529.75" cy="597.5" r="5.3" fill="#f5c518"/>
<rect x="213" y="848.4" width="64.6" height="58.6" rx="3" fill="#3d3f9e"/><path d="M213 856 V851.4 Q213 848.4 216 848.4 H252 L249.5 856 Z" fill="#5d5ec0"/><rect x="214.2" y="864" width="62.2" height="41.8" fill="#dbe8f6"/><rect x="214.2" y="864" width="18.8" height="41.8" fill="#a9d3f3"/><path d="M218 871 H230 M218 878 H230 M218 885 H230 M218 892 H230 M218 899 H230" stroke="#4a7ac0" stroke-width="1.2"/><circle cx="255" cy="856.4" r="2.8" fill="#e07a5f"/><circle cx="263.4" cy="856.4" r="2.8" fill="#f2b632"/><circle cx="272" cy="856.4" r="2.8" fill="#3bb273"/><path d="M239 871 L252 883 L239 896 M254 897 H270" fill="none" stroke="#e8632a" stroke-width="1.6"/>
<defs><linearGradient id="gg" x1="0" x2="1"><stop offset="0.5" stop-color="#e38c20"/><stop offset="0.5" stop-color="#c96a12"/></linearGradient></defs><polygon points="248.6,980.6 263.4,980.6 263.5,987.6 266.9,989.5 273.0,986.2 280.4,999.0 274.4,1002.6 274.4,1006.4 280.4,1010.0 273.0,1022.8 266.9,1019.5 263.5,1021.4 263.4,1028.4 248.6,1028.4 248.5,1021.4 245.1,1019.5 239.0,1022.8 231.6,1010.0 237.6,1006.4 237.6,1002.6 231.6,999.0 239.0,986.2 245.1,989.5 248.5,987.6" fill="url(#gg)" stroke-linejoin="round"/><circle cx="256" cy="1004.5" r="9" fill="#fbfbfb"/>
<rect x="221.6" y="1089" width="58" height="40.8" rx="1.5" fill="#4a55c8"/><rect x="223" y="1090.3" width="55.2" height="33.5" fill="#c9c9d3"/><rect x="237" y="1091" width="28" height="31" fill="#ffffff"/><rect x="243.6" y="1129.8" width="14.4" height="12.2" fill="#3d4ab8"/><path d="M243.6 1133.5 H258 M243.6 1137.5 H258" stroke="#6a76d8" stroke-width="1"/><use href="#tux" transform="translate(135.8,928.2) scale(0.158)"/>
<path d="M398.5 808 A31 31 0 0 1 442.5 808" fill="none" stroke="#dde2ee" stroke-width="7" stroke-linecap="round"/><path d="M406 820 A20.5 20.5 0 0 1 435.5 820" fill="none" stroke="#dde2ee" stroke-width="7" stroke-linecap="round"/><path d="M413 831 A12.5 12.5 0 0 1 428.5 831" fill="none" stroke="#dde2ee" stroke-width="7" stroke-linecap="round"/><circle cx="420.9" cy="842.2" r="4.3" fill="#1a90f0"/>
<g fill="none" stroke="#707a86" stroke-width="0.9"><path d="M414 1119 V1108 L409 1100 M420 1119 V1105 L424 1097 M426 1119 V1110 L428 1102 M432 1119 V1106 L436 1099"/><path d="M414 1145 V1155 L411 1160 M420 1145 V1158 M426 1145 V1156 L429 1162 M432 1145 V1152 L435 1158"/><path d="M410 1124 H400 L392 1119 M410 1130 H389.8 M410 1136 H398 L391 1141"/><path d="M438.6 1124 H450 L458 1117 M438.6 1131 H459.5 M438.6 1137 H449 L456 1143"/></g><rect x="410" y="1119" width="28.6" height="25.8" fill="#555a60"/><rect x="413" y="1122" width="22.6" height="19.8" fill="#2196c8"/>
<rect x="554.4" y="984.4" width="42.6" height="35.6" fill="#ffb75c"/><path d="M554.4 984.4 H597 L575.7 1001 Z" fill="#ff9a36"/>
<rect x="56" y="1061" width="1" height="3" fill="#c9b8e0"/><rect x="56" y="1112" width="1" height="3" fill="#c9b8e0"/><rect x="61" y="1061" width="1" height="3" fill="#c9b8e0"/><rect x="61" y="1112" width="1" height="3" fill="#c9b8e0"/><rect x="66" y="1061" width="1" height="3" fill="#c9b8e0"/><rect x="66" y="1112" width="1" height="3" fill="#c9b8e0"/><rect x="71" y="1061" width="1" height="3" fill="#c9b8e0"/><rect x="71" y="1112" width="1" height="3" fill="#c9b8e0"/><rect x="76" y="1061" width="1" height="3" fill="#c9b8e0"/><rect x="76" y="1112" width="1" height="3" fill="#c9b8e0"/><rect x="81" y="1061" width="1" height="3" fill="#c9b8e0"/><rect x="81" y="1112" width="1" height="3" fill="#c9b8e0"/><rect x="86" y="1061" width="1" height="3" fill="#c9b8e0"/><rect x="86" y="1112" width="1" height="3" fill="#c9b8e0"/><rect x="91" y="1061" width="1" height="3" fill="#c9b8e0"/><rect x="91" y="1112" width="1" height="3" fill="#c9b8e0"/><rect x="96" y="1061" width="1" height="3" fill="#c9b8e0"/><rect x="96" y="1112" width="1" height="3" fill="#c9b8e0"/><rect x="101" y="1061" width="1" height="3" fill="#c9b8e0"/><rect x="101" y="1112" width="1" height="3" fill="#c9b8e0"/><rect x="106" y="1061" width="1" height="3" fill="#c9b8e0"/><rect x="106" y="1112" width="1" height="3" fill="#c9b8e0"/><rect x="111" y="1061" width="1" height="3" fill="#c9b8e0"/><rect x="111" y="1112" width="1" height="3" fill="#c9b8e0"/><rect x="116" y="1061" width="1" height="3" fill="#c9b8e0"/><rect x="116" y="1112" width="1" height="3" fill="#c9b8e0"/><rect x="52" y="1064" width="68.6" height="48" rx="2" fill="#3d3d4a"/><defs><linearGradient id="ramg" x1="0" y1="0" x2="0" y2="1"><stop offset="0.37" stop-color="#c9a838"/><stop offset="0.37" stop-color="#58a858"/></linearGradient></defs><text x="60" y="1097" font-size="24.5" font-weight="bold" fill="url(#ramg)" stroke="#58a858" stroke-width="0.5" textLength="52" lengthAdjust="spacingAndGlyphs">RAM</text><rect x="58" y="1078" width="58" height="5" fill="#3d3d4a" opacity="0"/>
</svg>
</body></html>
